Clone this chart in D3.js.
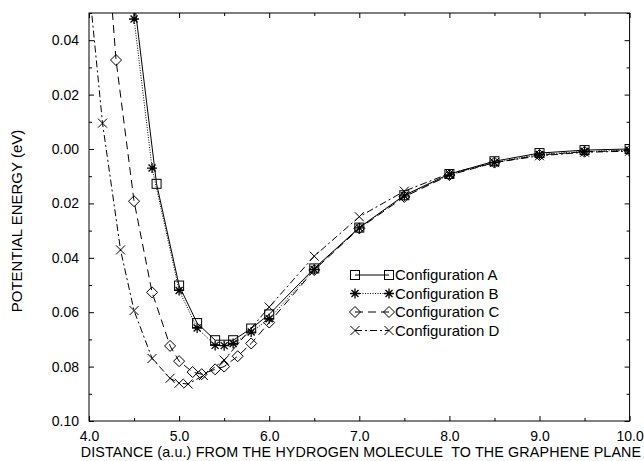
<!DOCTYPE html>
<html>
<head>
<meta charset="utf-8">
<script src="https://cdn.jsdelivr.net/npm/d3@7"></script>
<style>
  html, body { margin: 0; padding: 0; background: #fff; }
  svg { display: block; font-family: "Liberation Sans", Arial, Helvetica, sans-serif; }
</style>
</head>
<body>
<svg id="chart"></svg>
<script>
// values
const xA = [4.3, 4.5, 4.75, 5.0, 5.2, 5.4, 5.6, 5.8, 6.0, 6.5, 7.0, 7.5, 8.0, 8.5, 9.0, 9.5, 10.0];
const yA = [0.15, 0.055, -0.0128, -0.0502, -0.0640, -0.0703, -0.0703, -0.0660, -0.0608, -0.0439, -0.0289, -0.0170, -0.0092, -0.0045, -0.0015, -0.0004, 0.0];

const xB = [4.3, 4.5, 4.7, 5.0, 5.2, 5.4, 5.5, 5.6, 5.8, 6.0, 6.5, 7.0, 7.5, 8.0, 8.5, 9.0, 9.5, 10.0];
const yB = [0.15, 0.0478, -0.0070, -0.0520, -0.0658, -0.0722, -0.0723, -0.0715, -0.0673, -0.0624, -0.0443, -0.0290, -0.0172, -0.0095, -0.0050, -0.0020, -0.0009, -0.0005];

const xC = [4.15, 4.3, 4.5, 4.7, 4.9, 5.0, 5.15, 5.25, 5.4, 5.5, 5.65, 5.8, 6.0, 6.5, 7.0, 7.5, 8.0, 8.5, 9.0, 9.5, 10.0];
const yC = [0.098, 0.0327, -0.0192, -0.0527, -0.0724, -0.0780, -0.0820, -0.0828, -0.0810, -0.0800, -0.0762, -0.0715, -0.0638, -0.0445, -0.0292, -0.0176, -0.0096, -0.0050, -0.0022, -0.0010, -0.0006];

const xD = [4.0, 4.15, 4.35, 4.5, 4.7, 4.9, 5.0, 5.1, 5.27, 5.5, 6.0, 6.5, 7.0, 7.5, 8.0, 8.5, 9.0, 9.5, 10.0];
const yD = [0.060, 0.0095, -0.0371, -0.0594, -0.0770, -0.0843, -0.0861, -0.0864, -0.0833, -0.0776, -0.0581, -0.0394, -0.0249, -0.0155, -0.0090, -0.0050, -0.0025, -0.0012, -0.0008];

const seriesNames = ['Configuration A', 'Configuration B', 'Configuration C', 'Configuration D'];

const xTicks = [4, 5, 6, 7, 8, 9, 10];
const xTickLabels = ['4.0', '5.0', '6.0', '7.0', '8.0', '9.0', '10.0'];
const yTicks = [0.04, 0.02, 0.0, -0.02, -0.04, -0.06, -0.08, -0.10];
const yTickLabels = ['0.04', '0.02', '0.00', '0.02', '0.04', '0.06', '0.08', '0.10'];

const xTitle = 'DISTANCE (a.u.) FROM THE HYDROGEN MOLECULE  TO THE GRAPHENE PLANE';
const yTitle = 'POTENTIAL ENERGY (eV)';

//setting up svg container
const W = 644, H = 461;
const mLeft = 89, mRight = 629.6, mTop = 13, mBottom = 421;
const svg = d3.select('#chart').attr('width', W).attr('height', H);

const x = d3.scaleLinear().domain([4, 10]).range([mLeft, mRight]);
const y = d3.scaleLinear().domain([-0.10, 0.05]).range([mBottom, mTop]);

const xMinor = d3.range(4, 10.01, 0.5).filter(v => Math.abs(v - Math.round(v)) > 0.1);
const yMinor = d3.range(-0.09, 0.05, 0.02).map(v => +v.toFixed(2));

// axes, ticks pointing inward on all four sides
function styleAxis(g) {
  g.select('.domain').remove();
  g.selectAll('line').attr('stroke', '#000').attr('stroke-width', 1);
  g.selectAll('text').attr('fill', '#000').style('font-size', '14px');
}

svg.append('g').attr('transform', `translate(0,${mBottom})`)
  .call(d3.axisBottom(x).tickValues(xTicks).tickSize(-5).tickPadding(10)
    .tickFormat((d, i) => xTickLabels[i]))
  .call(styleAxis);
svg.append('g').attr('transform', `translate(0,${mBottom})`)
  .call(d3.axisBottom(x).tickValues(xMinor).tickSize(-3).tickFormat(''))
  .call(styleAxis);
svg.append('g').attr('transform', `translate(0,${mTop})`)
  .call(d3.axisTop(x).tickValues(xTicks).tickSize(-5).tickFormat(''))
  .call(styleAxis);
svg.append('g').attr('transform', `translate(0,${mTop})`)
  .call(d3.axisTop(x).tickValues(xMinor).tickSize(-3).tickFormat(''))
  .call(styleAxis);

svg.append('g').attr('transform', `translate(${mLeft},0)`)
  .call(d3.axisLeft(y).tickValues(yTicks).tickSize(-5).tickPadding(10)
    .tickFormat((d, i) => yTickLabels[i]))
  .call(styleAxis);
svg.append('g').attr('transform', `translate(${mLeft},0)`)
  .call(d3.axisLeft(y).tickValues(yMinor).tickSize(-3).tickFormat(''))
  .call(styleAxis);
svg.append('g').attr('transform', `translate(${mRight},0)`)
  .call(d3.axisRight(y).tickValues(yTicks).tickSize(-5).tickFormat(''))
  .call(styleAxis);
svg.append('g').attr('transform', `translate(${mRight},0)`)
  .call(d3.axisRight(y).tickValues(yMinor).tickSize(-3).tickFormat(''))
  .call(styleAxis);

svg.append('rect')
  .attr('x', mLeft).attr('y', mTop)
  .attr('width', mRight - mLeft).attr('height', mBottom - mTop)
  .attr('fill', 'none').attr('stroke', '#000').attr('stroke-width', 1);

// titles
svg.append('text')
  .attr('x', 361).attr('y', 457)
  .attr('text-anchor', 'middle').style('font-size', '14.3px')
  .style('letter-spacing', '0.15px')
  .style('white-space', 'pre')
  .text(xTitle);
svg.append('text')
  .attr('transform', `translate(22,${(mTop + mBottom) / 2 + 4}) rotate(-90)`)
  .attr('text-anchor', 'middle').style('font-size', '15px')
  .text(yTitle);

// markers
function marker(g, kind, cx, cy) {
  const s = g.append('g').attr('transform', `translate(${cx},${cy})`)
    .attr('fill', 'none').attr('stroke', '#000').attr('stroke-width', 1);
  if (kind === 'square') {
    s.append('rect').attr('x', -4.5).attr('y', -4.5).attr('width', 9).attr('height', 9);
  } else if (kind === 'star') {
    const r = 5;
    s.append('path').attr('d',
      `M0,${-r}V${r}M${-r},0H${r}M${-r*0.7},${-r*0.7}L${r*0.7},${r*0.7}M${-r*0.7},${r*0.7}L${r*0.7},${-r*0.7}`)
      .attr('stroke-width', 1.3);
  } else if (kind === 'diamond') {
    s.append('path').attr('d', 'M0,-5.5L5.5,0L0,5.5L-5.5,0Z');
  } else {
    s.append('path').attr('d', 'M-4.5,-4.5L4.5,4.5M-4.5,4.5L4.5,-4.5');
  }
}

const series = [
  { name: seriesNames[0], xs: xA, ys: yA, kind: 'square', dash: null },
  { name: seriesNames[1], xs: xB, ys: yB, kind: 'star', dash: '1,1.5' },
  { name: seriesNames[2], xs: xC, ys: yC, kind: 'diamond', dash: '8,5' },
  { name: seriesNames[3], xs: xD, ys: yD, kind: 'cross', dash: '7,3,2,3' }
];

svg.append('clipPath').attr('id', 'plotClip')
  .append('rect').attr('x', mLeft).attr('y', mTop)
  .attr('width', mRight - mLeft).attr('height', mBottom - mTop);

const plot = svg.append('g').attr('clip-path', 'url(#plotClip)');
const line = d3.line().x(d => x(d[0])).y(d => y(d[1]));

series.forEach(s => {
  const pts = s.xs.map((v, i) => [v, s.ys[i]]);
  plot.append('path')
    .datum(pts)
    .attr('d', line)
    .attr('fill', 'none').attr('stroke', '#000').attr('stroke-width', 1)
    .attr('stroke-dasharray', s.dash);
  pts.forEach(p => marker(plot, s.kind, x(p[0]), y(p[1])));
});

// legend
const legY = [275, 293.5, 312, 330.5];
series.forEach((s, i) => {
  const ly = legY[i];
  svg.append('line')
    .attr('x1', 355).attr('x2', 389).attr('y1', ly).attr('y2', ly)
    .attr('stroke', '#000').attr('stroke-width', 1)
    .attr('stroke-dasharray', s.dash);
  marker(svg, s.kind, 355, ly);
  marker(svg, s.kind, 389, ly);
  svg.append('text')
    .attr('x', 395).attr('y', ly + 5)
    .style('font-size', '15px')
    .text(s.name);
});
</script>
</body>
</html>
